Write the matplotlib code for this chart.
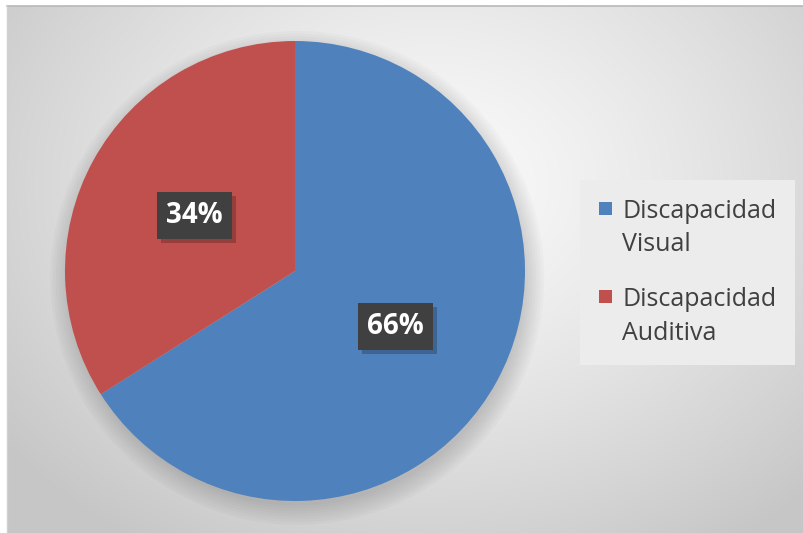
import numpy as np
import matplotlib
matplotlib.use("Agg")
import matplotlib.pyplot as plt
from matplotlib.patches import Circle, Rectangle
from matplotlib.legend_handler import HandlerPatch
from matplotlib.transforms import IdentityTransform

categories = ["Discapacidad\nVisual", "Discapacidad\nAuditiva"]
values = [66, 34]
colors = ["#4f81bd", "#c0504d"]

plt.rcParams['font.family'] = ['Open Sans', 'DejaVu Sans']

W, H = 804, 533
fig = plt.figure(figsize=(W / 100, H / 100), dpi=100)
fig.patch.set_facecolor("white")

# background panel with soft radial gradient
bg = fig.add_axes([0, 0, 1, 1])
bg.set_xlim(0, W)
bg.set_ylim(H, 0)
bg.axis("off")
yy, xx = np.mgrid[0:H, 0:W]
d = np.sqrt(((xx - 430) / 540.0) ** 2 + ((yy - 180) / 430.0) ** 2)
shade = 0.98 - 0.2 * np.clip(d, 0, 1.0) ** 1.3
img = np.dstack([shade, shade, shade])
bg.imshow(img, extent=(7, W, H, 6), aspect="auto", zorder=0)
bg.plot([7, W], [6, 6], color="#b8b8b8", lw=1.2, zorder=1)
bg.plot([7, 7], [6, H], color="#d0d0d0", lw=1.0, zorder=1)

# pie axes, center (295, 271), radius 230 px
cx, cy, r = 295, 271, 230
ax = fig.add_axes([(cx - r) / W, (H - cy - r) / H, 2 * r / W, 2 * r / H])
ax.set_facecolor("none")

# soft shadow under the pie
for k in range(8):
    ax.add_patch(Circle((0.01, -0.03), 0.99 + 0.012 * k, color="black",
                        alpha=0.02, lw=0, zorder=0, clip_on=False))

wedges, texts, autotexts = ax.pie(
    values, colors=colors, startangle=90, counterclock=False,
    autopct="%1.0f%%", pctdistance=0.5,
    wedgeprops=dict(linewidth=0),
    textprops=dict(color="white", fontsize=20, fontweight="bold"))
for w in wedges:
    w.set_zorder(2)

for t in autotexts:
    t.set_zorder(5)
    t.set_bbox(dict(boxstyle="square,pad=0.33", facecolor="#404040",
                    edgecolor="none"))

ax.set_xlim(-1, 1)
ax.set_ylim(-1, 1)
ax.axis("off")

# drop shadow of the label boxes, taken from the drawn box extents
fig.canvas.draw()
for t in autotexts:
    bb = t.get_bbox_patch().get_window_extent()
    ax.add_artist(Rectangle((bb.x0 + 4, bb.y0 - 4), bb.width, bb.height,
                            transform=IdentityTransform(), facecolor="black",
                            edgecolor="none", alpha=0.22, zorder=4,
                            clip_on=False))


def top_square(legend, orig_handle, xdescent, ydescent, width, height, fontsize):
    # marker next to the first line of the two-line label
    s = 0.52 * fontsize
    return Rectangle((-xdescent, -ydescent + 0.85 * fontsize), s, s)


leg = ax.legend(wedges, categories, loc="upper left",
                bbox_to_anchor=(580 / W, 1 - 180 / H),
                bbox_transform=fig.transFigure,
                fontsize=18, frameon=True, fancybox=False,
                handler_map={w: HandlerPatch(patch_func=top_square) for w in wedges},
                handlelength=0.52, handleheight=0.52, handletextpad=0.42,
                labelspacing=1.2, borderpad=0.75, borderaxespad=0)
leg.get_frame().set_facecolor("#ececec")
leg.get_frame().set_edgecolor("none")
leg.get_frame().set_alpha(1)
for t in leg.get_texts():
    t.set_color("#404040")
    t.set_linespacing(1.45)

fig.savefig("out.png", dpi=100)
